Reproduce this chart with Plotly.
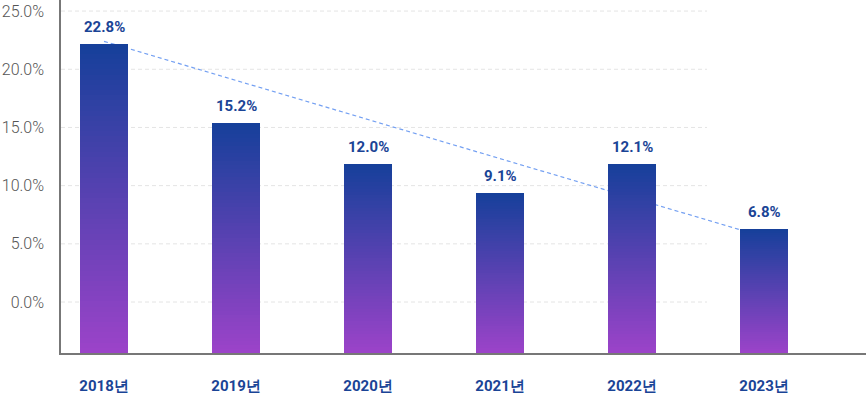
import plotly.graph_objects as go

# ---- data ----
years = ["2018년", "2019년", "2020년", "2021년", "2022년", "2023년"]
bar_values = [22.2, 15.4, 11.9, 9.4, 11.9, 6.3]
value_labels = ["22.8%", "15.2%", "12.0%", "9.1%", "12.1%", "6.8%"]
trend_values = [22.4, 5.6]          # dashed trend from first to last year
y_ticks = [0, 5, 10, 15, 20, 25]
y_tick_labels = ["0.0%", "5.0%", "10.0%", "15.0%", "20.0%", "25.0%"]

# ---- styling ----
Y_MIN, Y_MAX = -4.38, 25.95
N_SEG = 60
TOP = (0x15, 0x40, 0x9A)
BOTTOM = (0x9C, 0x43, 0xC9)
LABEL_COLOR = "#1A4496"
FONT = "Roboto, Arial, sans-serif"


def mix(f):
    c = [round(BOTTOM[i] + (TOP[i] - BOTTOM[i]) * f) for i in range(3)]
    return "rgb(%d,%d,%d)" % tuple(c)


fig = go.Figure()

# gradient bars: each bar is split into stacked slices from the axis bottom
for k in range(N_SEG):
    bases = [Y_MIN + (v - Y_MIN) * k / N_SEG for v in bar_values]
    heights = [(v - Y_MIN) / N_SEG * 1.02 if k < N_SEG - 1 else (v - Y_MIN) / N_SEG for v in bar_values]
    fig.add_trace(go.Bar(
        x=years, y=heights, base=bases, width=0.364,
        marker=dict(color=mix((k + 0.5) / N_SEG), line=dict(width=0)),
        hoverinfo="skip", showlegend=False,
    ))

shapes = []
# dashed grid lines (only up to part of the width, as in the reference)
for t in y_ticks:
    shapes.append(dict(type="line", xref="paper", yref="y", x0=0, x1=0.8025,
                       y0=t, y1=t, layer="below",
                       line=dict(color="#E4E4E4", width=1, dash="4px,3px")))
# dashed trend line behind the bars
shapes.append(dict(type="line", xref="x", yref="y",
                   x0=years[0], x1=years[-1], y0=trend_values[0], y1=trend_values[1],
                   layer="below",
                   line=dict(color="#74A0F2", width=1.2, dash="4px,3px")))

annotations = []
for x, v, t in zip(years, bar_values, value_labels):
    annotations.append(dict(x=x, y=v, xref="x", yref="y", text=t, showarrow=False,
                            yanchor="bottom", yshift=6,
                            font=dict(family=FONT, size=15, color=LABEL_COLOR, weight="bold")))

fig.update_layout(
    width=866, height=396,
    margin=dict(l=61, r=0, t=0, b=43, autoexpand=False),
    paper_bgcolor="white", plot_bgcolor="white",
    barmode="overlay", bargap=0,
    shapes=shapes, annotations=annotations,
    font=dict(family=FONT),
)
fig.update_xaxes(
    type="category", range=[-0.326, 5.772], automargin=False,
    showline=True, linecolor="#777777", linewidth=1.5,
    showgrid=False, zeroline=False, ticks="",
    tickfont=dict(family=FONT, size=15, color=LABEL_COLOR, weight="bold"),
    ticklabelstandoff=18,
)
fig.update_yaxes(
    range=[Y_MIN, Y_MAX], automargin=False,
    tickvals=y_ticks, ticktext=y_tick_labels,
    showline=True, linecolor="#777777", linewidth=1.5,
    showgrid=False, zeroline=False, ticks="",
    tickfont=dict(family=FONT, size=16, color="#555555", weight=300),
    ticklabelstandoff=12,
)

fig.write_html("out.html", config={"displayModeBar": False},
               post_script="document.body.style.margin='0';")
